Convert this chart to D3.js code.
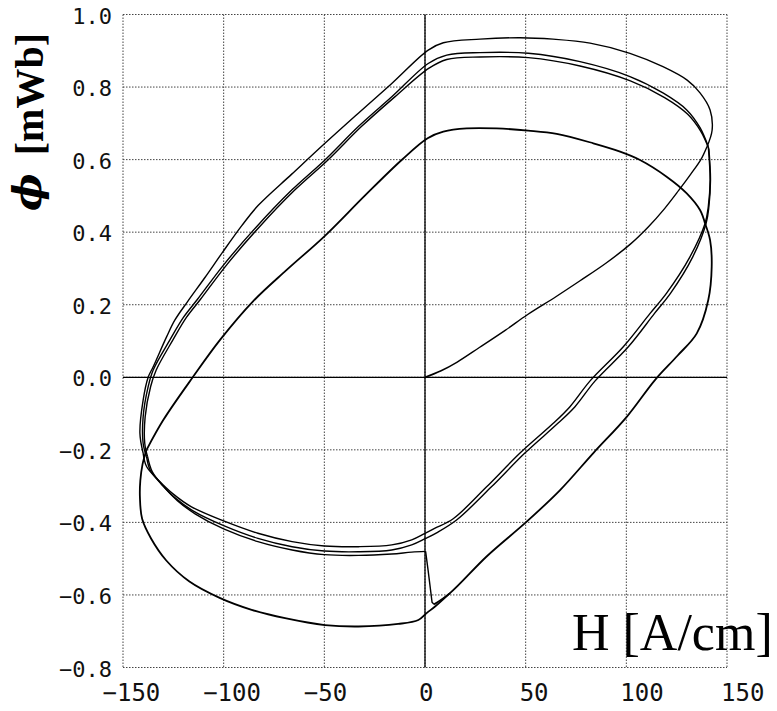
<!DOCTYPE html>
<html>
<head>
<meta charset="UTF-8" />
<style>
  body { margin: 0; background: #fff; }
  .grid { stroke: #444; stroke-width: 1; stroke-dasharray: 1.5, 1.5; fill: none; }
  .zero { stroke: #000; stroke-width: 1.3; }
  .trace { fill: none; stroke: #000; stroke-width: 1.4; stroke-linejoin: round; }
  .trace.lower { stroke-width: 1.8; }
  .tick { font-family: "DejaVu Sans Mono", monospace; fill: #111; }
</style>
<script src="https://d3js.org/d3.v7.min.js"></script>
</head>
<body>
<svg width="777" height="711"></svg>
<script>
// tick values
var xTicks = [-150, -100, -50, 0, 50, 100, 150];
var yTicks = [-0.8, -0.6, -0.4, -0.2, 0.0, 0.2, 0.4, 0.6, 0.8, 1.0];

// branches of the flux trace, [H (A/cm), phi (mWb)]
var initialCurve = [[0,0],[8,0.018],[16,0.042],[27,0.082],[40,0.13],[51,0.173],[65,0.222],[77,0.266],
  [90,0.315],[102,0.367],[111,0.415],[119,0.465],[126,0.515],[132,0.56],[137,0.6],[140,0.635]];

var top1 = [[140,0.635],[142.6,0.681],[141.6,0.737],[136.6,0.784],[130.2,0.819],[118.2,0.856],
  [101.8,0.893],[82,0.921],[63.6,0.932],[47.2,0.936],[27.3,0.932],[9.1,0.922],[1.6,0.902],
  [-16.5,0.81],[-33.1,0.728],[-49.7,0.645],[-66.2,0.56],[-82.8,0.474],[-91,0.418],[-100.5,0.345],
  [-109.3,0.275],[-118,0.208],[-124.2,0.158],[-128.3,0.112],[-135,0.029],[-137.5,0],[-140,-0.063],
  [-141.6,-0.154],[-140,-0.209]];

var bottom1 = [[-140,-0.209],[-138.3,-0.246],[-132.5,-0.283],[-125,-0.322],[-116,-0.357],[-100,-0.396],
  [-83,-0.43],[-66,-0.453],[-50,-0.465],[-33,-0.467],[-16.5,-0.462],[-6.6,-0.448],[0,-0.43],[5,-0.416],
  [14,-0.39],[30.6,-0.302],[47.2,-0.209],[63.7,-0.127],[72,-0.081],[82,-0.01],[98.5,0.084],
  [111.8,0.176],[120,0.232],[131.6,0.332],[139.1,0.424],[140.7,0.47],[141.6,0.544],[140.7,0.636]];

var top2 = [[140.7,0.636],[136.6,0.688],[130,0.737],[118.4,0.783],[101.8,0.829],[77,0.87],[51.3,0.893],
  [27.3,0.895],[10.8,0.888],[1.6,0.865],[-16.5,0.773],[-33.1,0.691],[-49.7,0.599],[-66.2,0.516],
  [-84,0.413],[-100,0.31],[-113,0.215],[-120,0.165],[-126.7,0.103],[-135,0.02],[-137.5,-0.026],
  [-140,-0.109],[-140,-0.182],[-138.3,-0.219]];

var bottom2 = [[-138.3,-0.219],[-136.5,-0.256],[-131,-0.294],[-124,-0.333],[-115,-0.369],[-100,-0.409],
  [-83,-0.444],[-66,-0.467],[-50,-0.479],[-33,-0.481],[-16.5,-0.476],[-6.6,-0.462],[0,-0.445],
  [6,-0.428],[16,-0.392],[33,-0.302],[49.6,-0.209],[66,-0.127],[74.5,-0.081],[84.5,-0.01],
  [101,0.084],[114,0.176],[122,0.232],[133,0.332],[139.6,0.424],[141,0.47],[141.8,0.544],[141,0.63]];

var top3 = [[141,0.63],[137,0.678],[130.5,0.725],[119,0.771],[102,0.817],[77,0.858],[51.3,0.881],
  [27.3,0.883],[10.8,0.876],[2,0.852],[-15,0.773],[-31.6,0.691],[-48.2,0.599],[-64.7,0.516],
  [-82.5,0.413],[-98.5,0.31],[-111.5,0.215],[-118.5,0.165],[-125.2,0.103],[-133.5,0.02],
  [-136.3,-0.026],[-139,-0.109],[-139.2,-0.182],[-137.8,-0.219]];

var bottom3 = [[-137.8,-0.219],[-135.5,-0.26],[-130,-0.3],[-123,-0.34],[-114,-0.377],[-100,-0.418],
  [-83,-0.453],[-66,-0.476],[-50,-0.489],[-33,-0.491],[-16.5,-0.487],[-6.6,-0.482],[0.3,-0.48]];

var jump = [[0.3,-0.48],[1.5,-0.53],[3.5,-0.62],[4.5,-0.626]];

var lowerRise = [[4.5,-0.626],[12.4,-0.595],[30.6,-0.494],[50.5,-0.398],[67.1,-0.311],[83.6,-0.209],
  [100.2,-0.109],[114.3,-0.007],[125.5,0.06],[135,0.121],[140.7,0.213],[142.4,0.305],[141.6,0.378],
  [139.1,0.424]];

var lowerTop = [[139.1,0.424],[136.6,0.461],[130,0.507],[120,0.553],[106.8,0.599],[96.9,0.622],
  [83.6,0.645],[65.4,0.671],[51.3,0.68],[35.6,0.686],[20.7,0.686],[9.1,0.677],[1.3,0.659],
  [-11.6,0.599],[-30,0.5],[-49.7,0.39],[-68.7,0.296],[-85.3,0.21],[-101.8,0.103],[-115.1,0.002],
  [-130,-0.118],[-138.3,-0.2]];

var lowerBottom = [[-138.3,-0.2],[-140.3,-0.24],[-141.4,-0.285],[-141.6,-0.33],[-140.5,-0.39],
  [-136,-0.445],[-128.5,-0.505],[-117,-0.563],[-102,-0.608],[-86.1,-0.641],[-69.5,-0.664],
  [-49.7,-0.683],[-33.1,-0.687],[-13.3,-0.68],[-3.3,-0.669],[0.8,-0.65],[5,-0.632],[12.4,-0.595]];

var svg = d3.select("svg");

var x = d3.scaleLinear().domain([-150, 150]).range([123, 727]);
var y = d3.scaleLinear().domain([-0.8, 1.0]).range([667.5, 14.5]);

// dotted grid and frame
svg.append("g").selectAll("line.v")
  .data(xTicks)
  .enter()
  .append("line")
  .attr("class", "grid")
  .attr("x1", (d) => x(d)).attr("x2", (d) => x(d))
  .attr("y1", y(1.0)).attr("y2", y(-0.8));

svg.append("g").selectAll("line.h")
  .data(yTicks)
  .enter()
  .append("line")
  .attr("class", "grid")
  .attr("y1", (d) => y(d)).attr("y2", (d) => y(d))
  .attr("x1", x(-150)).attr("x2", x(150));

// solid zero axes
svg.append("line").attr("class", "zero")
  .attr("x1", x(0)).attr("x2", x(0)).attr("y1", y(1.0)).attr("y2", y(-0.8));
svg.append("line").attr("class", "zero")
  .attr("x1", x(-150)).attr("x2", x(150)).attr("y1", y(0)).attr("y2", y(0));

// traces
var smooth = d3.line()
  .x((d) => x(d[0]))
  .y((d) => y(d[1]))
  .curve(d3.curveCatmullRom.alpha(0.5));
var straight = d3.line()
  .x((d) => x(d[0]))
  .y((d) => y(d[1]));

var upper = [initialCurve, top1, bottom1, top2, bottom2, top3, bottom3];
svg.append("g").selectAll("path")
  .data(upper)
  .enter()
  .append("path")
  .attr("class", "trace")
  .attr("d", smooth);

svg.append("path").attr("class", "trace").attr("d", straight(jump));

svg.append("g").selectAll("path")
  .data([lowerRise, lowerTop, lowerBottom])
  .enter()
  .append("path")
  .attr("class", "trace lower")
  .attr("d", smooth);

// tick labels
var fmt = (v) => v.toString().replace("-", "\u2212");

svg.append("g").selectAll("text")
  .data(xTicks)
  .enter()
  .append("text")
  .attr("class", "tick")
  .attr("x", (d) => x(d) - 6 - (d < 0 ? 14.5 : 0))
  .attr("y", 701)
  .style("font-size", "24px")
  .text((d) => fmt(d));

svg.append("g").selectAll("text")
  .data(yTicks)
  .enter()
  .append("text")
  .attr("class", "tick")
  .attr("x", 112)
  .attr("y", (d) => y(d) + 9)
  .style("text-anchor", "end")
  .style("font-size", "22px")
  .text((d) => fmt(d3.format(".1f")(d)));

// axis titles
svg.append("text")
  .attr("transform", "translate(41,211) rotate(-90)")
  .style("font-family", "DejaVu Serif")
  .style("font-weight", "bold")
  .style("font-style", "italic")
  .style("font-size", "40px")
  .text("\u03D5");

svg.append("text")
  .attr("transform", "translate(43,33) rotate(-90)")
  .style("text-anchor", "end")
  .style("font-family", "Liberation Serif")
  .style("font-weight", "bold")
  .style("font-size", "40px")
  .text("[mWb]");

svg.append("text")
  .attr("x", 572)
  .attr("y", 650)
  .style("font-family", "Liberation Serif")
  .style("font-size", "52px")
  .text("H [A/cm]");
</script>
</body>
</html>
